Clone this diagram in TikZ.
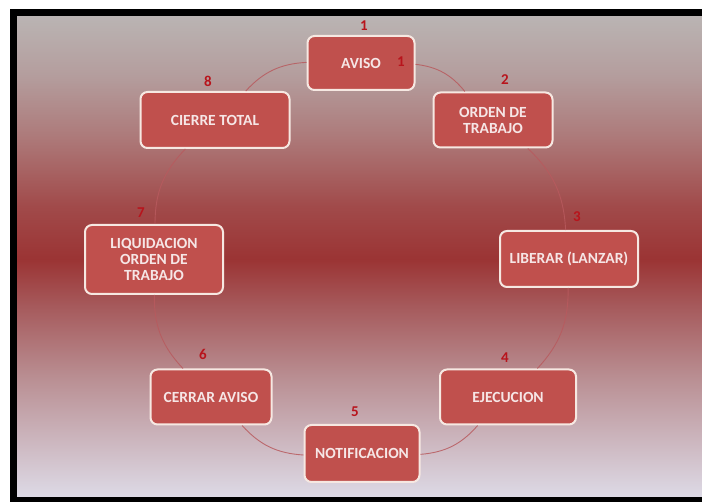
\documentclass[tikz,border=0pt]{standalone}
\usepackage{fontspec}
\setmainfont{Carlito}
\definecolor{boxred}{HTML}{C0504D}
\definecolor{boxline}{HTML}{F6E8E2}
\definecolor{boxtext}{HTML}{F6E6E6}
\definecolor{numred}{HTML}{B8141C}
\definecolor{cycleline}{HTML}{B85A5E}
\pgfdeclareverticalshading{bgshade}{100bp}{%
  color(0bp)=(rgb,255:red,221;green,218;blue,230);
  color(25bp)=(rgb,255:red,221;green,218;blue,230);
  color(31.25bp)=(rgb,255:red,203;green,180;blue,188);
  color(37.5bp)=(rgb,255:red,185;green,142;blue,146);
  color(44.8bp)=(rgb,255:red,166;green,90;blue,92);
  color(49.7bp)=(rgb,255:red,155;green,52;blue,52);
  color(55.2bp)=(rgb,255:red,161;green,74;blue,74);
  color(62.5bp)=(rgb,255:red,173;green,122;blue,122);
  color(68.75bp)=(rgb,255:red,180;green,157;blue,157);
  color(75bp)=(rgb,255:red,186;green,180;blue,179);
  color(100bp)=(rgb,255:red,186;green,180;blue,179)}
\tikzset{
  stepbox/.style={draw=boxline,fill=boxred,line width=2bp,rounded corners=7bp,
    text=boxtext,font=\fontsize{15.5bp}{16bp}\selectfont\bfseries,align=center,inner sep=0pt},
  numlabel/.style={text=numred,font=\fontsize{15bp}{16bp}\selectfont\bfseries,inner sep=0pt},
  arcline/.style={draw=cycleline,line width=0.9bp,opacity=0.85},
}
\begin{document}
\begin{tikzpicture}[line join=bevel,]
%%
\useasboundingbox (0bp,0bp) rectangle (702bp,502bp);
\fill [white] (0bp,0bp) rectangle (702bp,502bp);
\shade [shading=bgshade] (17bp,5bp) rectangle (702bp,486bp);
\fill [black] (10bp,0bp) rectangle (17bp,493bp);
\fill [black] (10bp,486bp) rectangle (702bp,493bp);
\fill [black] (10bp,0bp) rectangle (702bp,5bp);
%
\node (node_0) at (361bp,439bp) [stepbox,minimum width=107bp,minimum height=54bp] {AVISO};
  \node (node_1) at (493bp,382bp) [stepbox,minimum width=119bp,minimum height=55bp] {ORDEN DE\\TRABAJO};
  \node (node_2) at (569bp,243bp) [stepbox,minimum width=138bp,minimum height=56bp] {LIBERAR (LANZAR)};
  \node (node_3) at (508bp,105bp) [stepbox,minimum width=136bp,minimum height=55bp] {EJECUCION};
  \node (node_4) at (362bp,48.5bp) [stepbox,minimum width=115bp,minimum height=57bp] {NOTIFICACION};
  \node (node_5) at (211bp,105bp) [stepbox,minimum width=121bp,minimum height=55bp] {CERRAR AVISO};
  \node (node_6) at (154bp,242.5bp) [stepbox,minimum width=138bp,minimum height=69bp] {LIQUIDACION\\ORDEN DE\\TRABAJO};
  \node (node_7) at (215bp,382bp) [stepbox,minimum width=149bp,minimum height=56bp] {CIERRE TOTAL};
%
\draw [arcline] (node_0) to[bend left=22] (node_1);
  \draw [arcline] (node_1) to[bend left=22] (node_2);
  \draw [arcline] (node_2) to[bend left=22] (node_3);
  \draw [arcline] (node_3) to[bend left=22] (node_4);
  \draw [arcline] (node_4) to[bend left=22] (node_5);
  \draw [arcline] (node_5) to[bend left=22] (node_6);
  \draw [arcline] (node_6) to[bend left=22] (node_7);
  \draw [arcline] (node_7) to[bend left=22] (node_0);
%
\node (num_0) at (364bp,476bp) [numlabel] {1};
  \node (num_0b) at (401bp,440bp) [numlabel] {1};
  \node (num_1) at (505bp,422bp) [numlabel] {2};
  \node (num_2) at (577bp,285bp) [numlabel] {3};
  \node (num_3) at (505bp,144bp) [numlabel] {4};
  \node (num_4) at (355bp,90bp) [numlabel] {5};
  \node (num_5) at (203bp,148bp) [numlabel] {6};
  \node (num_6) at (141bp,289bp) [numlabel] {7};
  \node (num_7) at (208bp,421bp) [numlabel] {8};
%
\end{tikzpicture}
\end{document}
